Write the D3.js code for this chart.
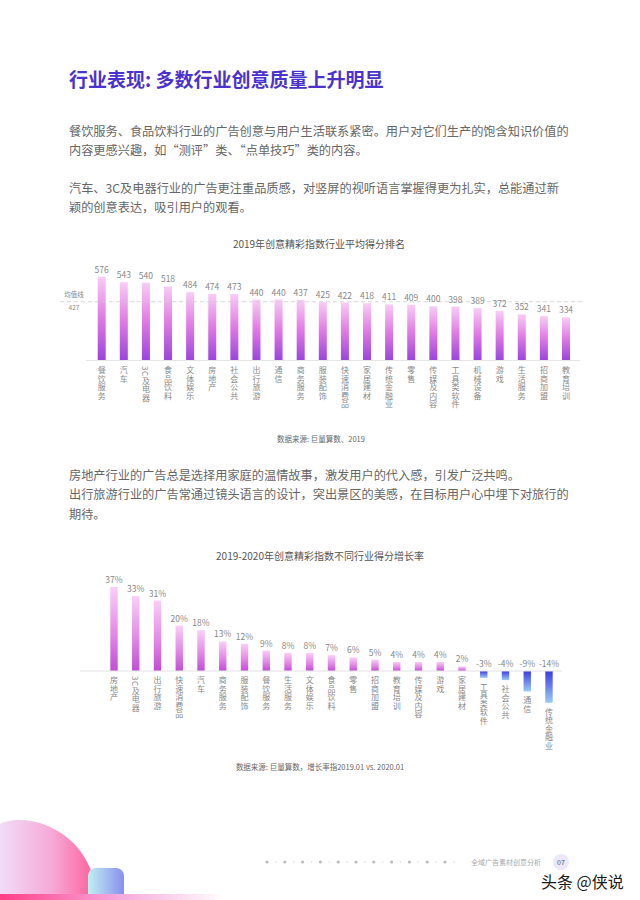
<!DOCTYPE html>
<html><head><meta charset="utf-8">
<script src="https://cdn.jsdelivr.net/npm/d3@7/dist/d3.min.js"></script>
<style>
html,body{margin:0;padding:0;background:#fff;}
svg{display:block;font-family:"Noto Sans CJK SC","Noto Sans",sans-serif;}
</style></head>
<body>
<svg id="chart" width="640" height="900"></svg>
<script>
// ---- data ----
const cats2019 = ["餐饮服务","汽车","3C及电器","食品饮料","文体娱乐","房地产","社会公共","出行旅游","通信","商务服务","服装配饰","快速消费品","家居建材","传统金融业","零售","传媒及内容","工具类软件","机械设备","游戏","生活服务","招商加盟","教育培训"];
const scores2019 = [576,543,540,518,484,474,473,440,440,437,425,422,418,411,409,400,398,389,372,352,341,334];
const meanScore = 427;
const cats2020 = ["房地产","3C及电器","出行旅游","快速消费品","汽车","商务服务","服装配饰","餐饮服务","生活服务","文体娱乐","食品饮料","零售","招商加盟","教育培训","传媒及内容","游戏","家居建材","工具类软件","社会公共","通信","传统金融业"];
const growth2020 = [37,33,31,20,18,13,12,9,8,8,7,6,5,4,4,4,2,-3,-4,-9,-14];
const pageTitle = "行业表现: 多数行业创意质量上升明显";
const para1 = ["餐饮服务、食品饮料行业的广告创意与用户生活联系紧密。用户对它们生产的饱含知识价值的","内容更感兴趣，如“测评”类、“点单技巧”类的内容。"];
const para2 = ["汽车、3C及电器行业的广告更注重品质感，对竖屏的视听语言掌握得更为扎实，总能通过新","颖的创意表达，吸引用户的观看。"];
const para3 = ["房地产行业的广告总是选择用家庭的温情故事，激发用户的代入感，引发广泛共鸣。","出行旅游行业的广告常通过镜头语言的设计，突出景区的美感，在目标用户心中埋下对旅行的","期待。"];
const title1 = "2019年创意精彩指数行业平均得分排名";
const source1 = "数据来源: 巨量算数、2019";
const title2 = "2019-2020年创意精彩指数不同行业得分增长率";
const source2 = "数据来源: 巨量算数，增长率指2019.01 vs. 2020.01";

const svg = d3.select("#chart");
const defs = svg.append("defs");

function grad(id, stops, x2=0, y2=1){
  const g = defs.append("linearGradient").attr("id", id)
    .attr("x1",0).attr("y1",0).attr("x2",x2).attr("y2",y2);
  stops.forEach(s => g.append("stop").attr("offset", s[0]).attr("stop-color", s[1]));
}
grad("g1", [[0,"#f8cdf5"],[0.5,"#e07ae4"],[1,"#9a45dc"]]);
grad("g2", [[0,"#f9cff6"],[0.55,"#e38ae6"],[1,"#c14dd6"]]);
grad("gneg", [[0,"#3a3ae2"],[1,"#9ccbf4"]]);
grad("gcirc", [[0,"#f1dcf8"],[0.55,"#f6a8d6"],[1,"#ff5d98"]], 1, 0);
grad("grect", [[0,"#bff0f0"],[1,"#8a8ef0"]], 1, 0);
grad("gbar", [[0,"#ff3d86"],[0.5,"#f6a3d8"],[1,"#ffffff"]], 1, 0);

// ---- page text ----
svg.append("text").attr("x",69).attr("y",87).attr("font-size",19).attr("font-weight",700)
  .attr("fill","#4a33cc").text(pageTitle);

function para(lines, y0){
  lines.forEach((l,i)=>svg.append("text").attr("x",69).attr("y",y0+i*19.5)
    .attr("font-size",12.2).attr("fill","#666").text(l));
}
para(para1, 135.5);
para(para2, 192.5);
para(para3, 479.5);

// ---- chart 1 ----
const x1 = d3.scalePoint().domain(cats2019).range([101.7, 566]);
const y1 = d3.scaleLinear().domain([80, 600]).range([360, 272.7]);
const c1 = svg.append("g");
c1.append("text").attr("x",319).attr("y",247.5).attr("text-anchor","middle")
  .attr("font-size",10).attr("fill","#555").text(title1);
c1.append("line").attr("x1",86).attr("x2",580).attr("y1",360.5).attr("y2",360.5)
  .attr("stroke","#e6e6e6").attr("stroke-width",1);
c1.selectAll("rect.b").data(scores2019).join("rect").attr("class","b")
  .attr("x",(d,i)=>x1(cats2019[i])-4).attr("width",8)
  .attr("y",d=>y1(d)).attr("height",d=>y1(80)-y1(d)).attr("fill","url(#g1)");
c1.append("line").attr("x1",60).attr("x2",582).attr("y1",y1(meanScore)).attr("y2",y1(meanScore))
  .attr("stroke","#cccccc").attr("stroke-width",0.8).attr("stroke-dasharray","4,3");
c1.append("text").attr("x",74).attr("y",y1(meanScore)-5).attr("text-anchor","middle")
  .attr("font-size",6.5).attr("fill","#888").text("均值线");
c1.append("text").attr("x",74).attr("y",y1(meanScore)+8).attr("text-anchor","middle")
  .attr("font-size",6.5).attr("fill","#888").text(meanScore);
c1.selectAll("text.v").data(scores2019).join("text").attr("class","v")
  .attr("x",(d,i)=>x1(cats2019[i])).attr("y",d=>y1(d)-4).attr("text-anchor","middle")
  .attr("font-size",8.5).attr("fill","#888").text(d=>d);
c1.selectAll("text.c").data(cats2019).join("text").attr("class","c")
  .attr("x",d=>x1(d)).attr("y",366).attr("font-size",8).attr("fill","#888")
  .style("writing-mode","vertical-rl").attr("letter-spacing",0.5).text(d=>d);
c1.append("text").attr("x",321).attr("y",442).attr("text-anchor","middle")
  .attr("font-size",7.5).attr("fill","#666").text(source1);

// ---- chart 2 ----
const x2 = d3.scalePoint().domain(cats2020).range([114, 549]);
const y2 = d3.scaleLinear().domain([-14, 37]).range([702.8, 587]);
const c2 = svg.append("g");
c2.append("text").attr("x",320).attr("y",559.5).attr("text-anchor","middle")
  .attr("font-size",10).attr("fill","#555").text(title2);
c2.selectAll("rect.b").data(growth2020).join("rect").attr("class","b")
  .attr("x",(d,i)=>x2(cats2020[i])-3.7).attr("width",7.4)
  .attr("y",d=>Math.min(y2(d),y2(0))).attr("height",d=>Math.abs(y2(d)-y2(0)))
  .attr("fill",d=>d>=0?"url(#g2)":"url(#gneg)");
c2.append("line").attr("x1",80).attr("x2",562).attr("y1",y2(0)).attr("y2",y2(0))
  .attr("stroke","#e2e2e2").attr("stroke-width",1);
c2.selectAll("text.v").data(growth2020).join("text").attr("class","v")
  .attr("x",(d,i)=>x2(cats2020[i])).attr("y",d=>(d>=0?y2(d):y2(0))-4).attr("text-anchor","middle")
  .attr("font-size",8.5).attr("fill","#888").text(d=>d+"%");
c2.selectAll("text.c").data(cats2020).join("text").attr("class","c")
  .attr("x",d=>x2(d)).attr("y",(d,i)=>(growth2020[i]>=0?y2(0):y2(growth2020[i]))+5)
  .attr("font-size",8).attr("fill","#888")
  .style("writing-mode","vertical-rl").attr("letter-spacing",0.5).text(d=>d);
c2.append("text").attr("x",320).attr("y",770).attr("text-anchor","middle")
  .attr("font-size",7.5).attr("fill","#666").text(source2);

// ---- footer decoration ----
const f = svg.append("g");
f.append("path").attr("d","M0,900 L0,824 Q8,820 18,820 A78,78 0 0 1 96,898 L96,900 Z").attr("fill","url(#gcirc)");
f.append("rect").attr("x",88).attr("y",868).attr("width",36).attr("height",40).attr("rx",8).attr("fill","url(#grect)");
f.append("rect").attr("x",0).attr("y",894).attr("width",225).attr("height",6).attr("fill","url(#gbar)");
const dots = d3.range(22);
f.selectAll("circle.d").data(dots).join("circle").attr("class","d")
  .attr("cx",d=>267+d*8.9).attr("cy",862).attr("r",d=>d%2?0.8:1.6)
  .attr("fill",d=>d%2?"#d8d8d8":"#bdbdbd");
f.append("text").attr("x",471).attr("y",865).attr("font-size",7).attr("fill","#aaa").text("全域广告素材创意分析");
f.append("circle").attr("cx",561).attr("cy",862).attr("r",8).attr("fill","#ece8fa");
f.append("text").attr("x",561).attr("y",865).attr("text-anchor","middle").attr("font-size",7).attr("fill","#555").text("07");
f.append("text").attr("x",541).attr("y",888).attr("font-size",16).attr("fill","#1a1a1a")
  .attr("stroke","#fff").attr("stroke-width",2.5).attr("paint-order","stroke").text("头条 @侠说");
</script>
</body></html>
